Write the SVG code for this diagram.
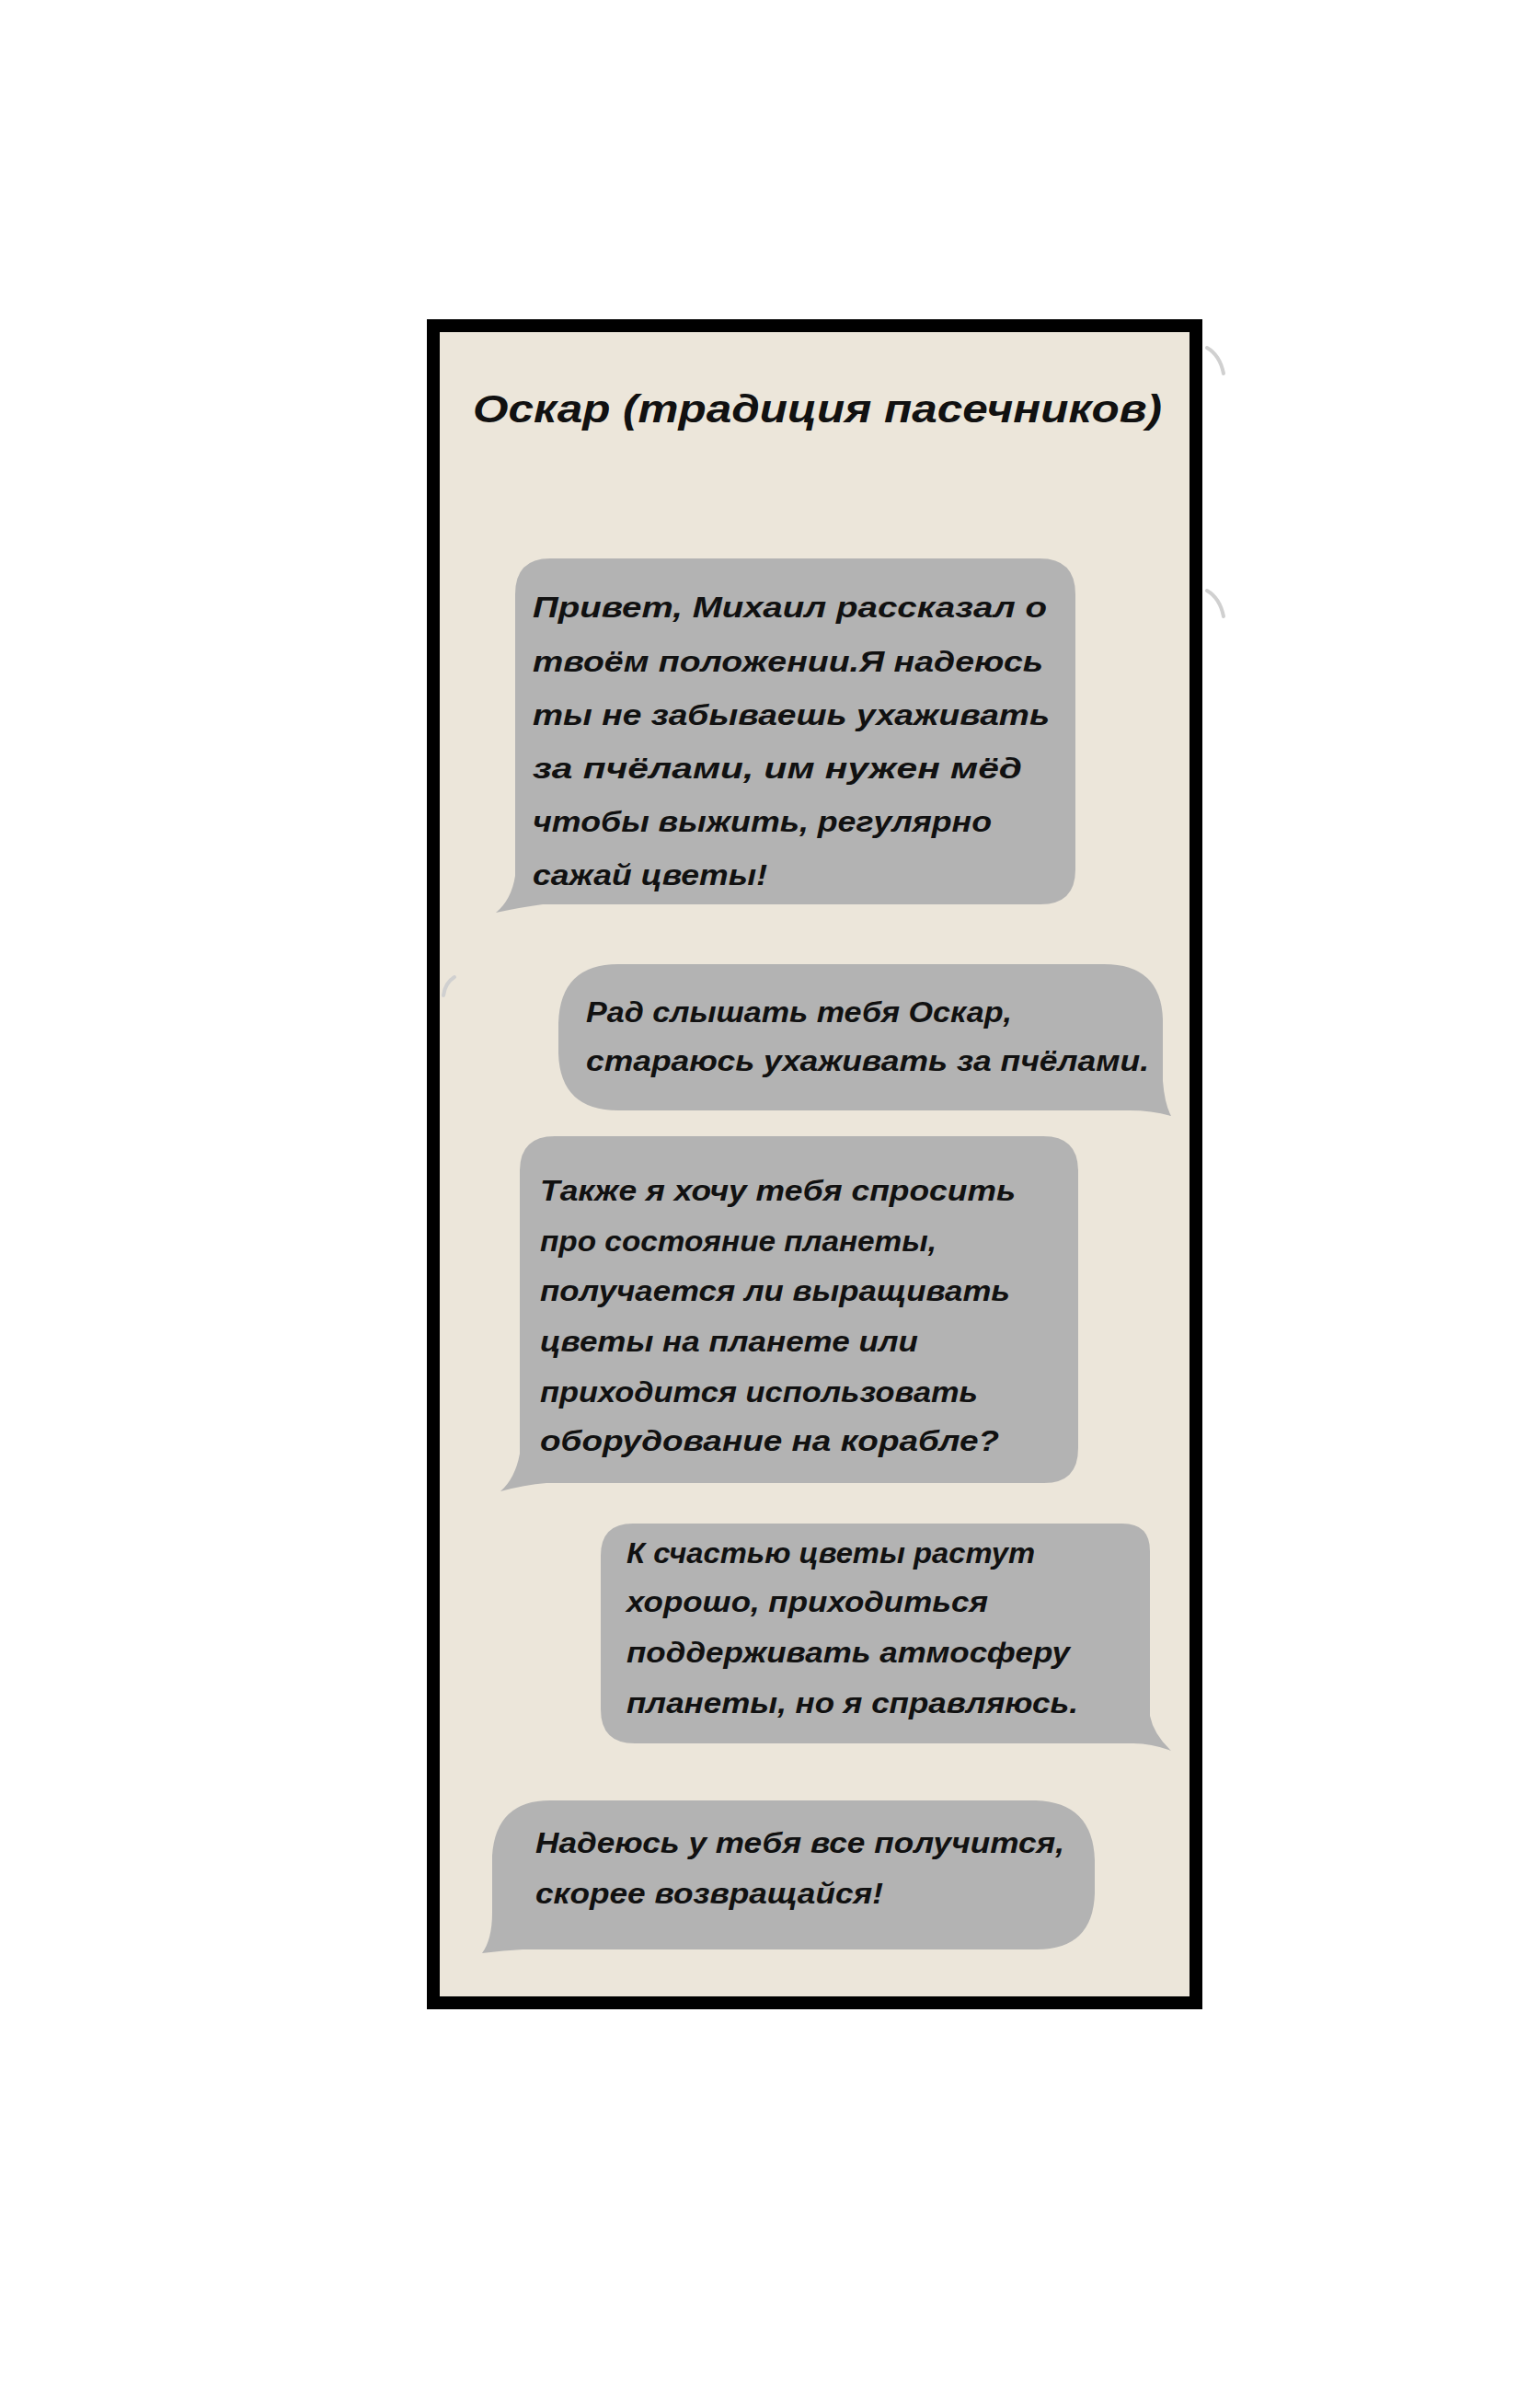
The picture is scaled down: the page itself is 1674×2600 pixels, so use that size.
<svg xmlns="http://www.w3.org/2000/svg" width="1674" height="2600" viewBox="0 0 1674 2600">
<style>
.bubble{fill:#b3b3b3}
.t{font-family:"Liberation Sans","DejaVu Sans",sans-serif;font-weight:bold;font-style:italic;font-size:32px;fill:#111}
.title{font-family:"Liberation Sans","DejaVu Sans",sans-serif;font-weight:bold;font-style:italic;font-size:43px;fill:#111}
.art{fill:none;stroke:#d0d0d0;stroke-width:4;stroke-linecap:round}
</style>
<rect width="1674" height="2600" fill="#ffffff"/>
<g id="panel">
<rect x="471" y="354" width="829" height="1823" fill="#ece6da" stroke="#000" stroke-width="14"/>
<path class="art" d="M1312,378 Q1326,386 1330,406"/>
<path class="art" d="M1312,642 Q1326,650 1330,670"/>
<path class="art" d="M494,1062 Q484,1068 482,1082"/>
</g>
<g id="title">
<text class="title" x="514" y="459" textLength="749" lengthAdjust="spacingAndGlyphs">Оскар (традиция пасечников)</text>
</g>
<g id="bubble1">
<path class="bubble" d="M598,607 H1130 Q1169,607 1169,646 V945 Q1169,983 1131,983 H590 Q567,986 539,992 Q556,978 560,952 V646 Q560,607 598,607 Z"/>
<text class="t" x="579" y="671" textLength="559" lengthAdjust="spacingAndGlyphs">Привет, Михаил рассказал о</text>
<text class="t" x="579" y="730" textLength="555" lengthAdjust="spacingAndGlyphs">твоём положении.Я надеюсь</text>
<text class="t" x="579" y="788" textLength="562" lengthAdjust="spacingAndGlyphs">ты не забываешь ухаживать</text>
<text class="t" x="579" y="846" textLength="532" lengthAdjust="spacingAndGlyphs">за пчёлами, им нужен мёд</text>
<text class="t" x="579" y="904" textLength="499" lengthAdjust="spacingAndGlyphs">чтобы выжить, регулярно</text>
<text class="t" x="579" y="962" textLength="255" lengthAdjust="spacingAndGlyphs">сажай цветы!</text>
</g>
<g id="bubble2">
<path class="bubble" d="M672,1048 H1200 Q1262,1048 1264,1108 V1175 Q1266,1200 1273,1213 Q1250,1206 1220,1207 H672 Q609,1207 607,1145 V1112 Q609,1048 672,1048 Z"/>
<text class="t" x="637" y="1111" textLength="463" lengthAdjust="spacingAndGlyphs">Рад слышать тебя Оскар,</text>
<text class="t" x="637" y="1164" textLength="612" lengthAdjust="spacingAndGlyphs">стараюсь ухаживать за пчёлами.</text>
</g>
<g id="bubble3">
<path class="bubble" d="M603,1235 H1134 Q1172,1235 1172,1273 V1574 Q1172,1612 1135,1612 H594 Q570,1614 544,1621 Q560,1607 565,1580 V1273 Q565,1235 603,1235 Z"/>
<text class="t" x="587" y="1305" textLength="517" lengthAdjust="spacingAndGlyphs">Также я хочу тебя спросить</text>
<text class="t" x="587" y="1360" textLength="431" lengthAdjust="spacingAndGlyphs">про состояние планеты,</text>
<text class="t" x="587" y="1414" textLength="511" lengthAdjust="spacingAndGlyphs">получается ли выращивать</text>
<text class="t" x="587" y="1469" textLength="411" lengthAdjust="spacingAndGlyphs">цветы на планете или</text>
<text class="t" x="587" y="1524" textLength="476" lengthAdjust="spacingAndGlyphs">приходится использовать</text>
<text class="t" x="587" y="1577" textLength="499" lengthAdjust="spacingAndGlyphs">оборудование на корабле?</text>
</g>
<g id="bubble4">
<path class="bubble" d="M688,1656 H1220 Q1250,1656 1250,1686 V1865 Q1254,1885 1273,1903 Q1252,1895 1232,1895 H690 Q653,1895 653,1858 V1691 Q653,1656 688,1656 Z"/>
<text class="t" x="681" y="1699" textLength="444" lengthAdjust="spacingAndGlyphs">К счастью цветы растут</text>
<text class="t" x="681" y="1752" textLength="393" lengthAdjust="spacingAndGlyphs">хорошо, приходиться</text>
<text class="t" x="681" y="1807" textLength="482" lengthAdjust="spacingAndGlyphs">поддерживать атмосферу</text>
<text class="t" x="681" y="1862" textLength="491" lengthAdjust="spacingAndGlyphs">планеты, но я справляюсь.</text>
</g>
<g id="bubble5">
<path class="bubble" d="M598,1957 H1126 Q1188,1959 1190,2022 V2058 Q1188,2119 1127,2119 H568 Q548,2120 524,2123 Q535,2108 535,2079 V2017 Q539,1957 598,1957 Z"/>
<text class="t" x="582" y="2014" textLength="575" lengthAdjust="spacingAndGlyphs">Надеюсь у тебя все получится,</text>
<text class="t" x="582" y="2069" textLength="378" lengthAdjust="spacingAndGlyphs">скорее возвращайся!</text>
</g>
<g id="connectors"></g>
</svg>
